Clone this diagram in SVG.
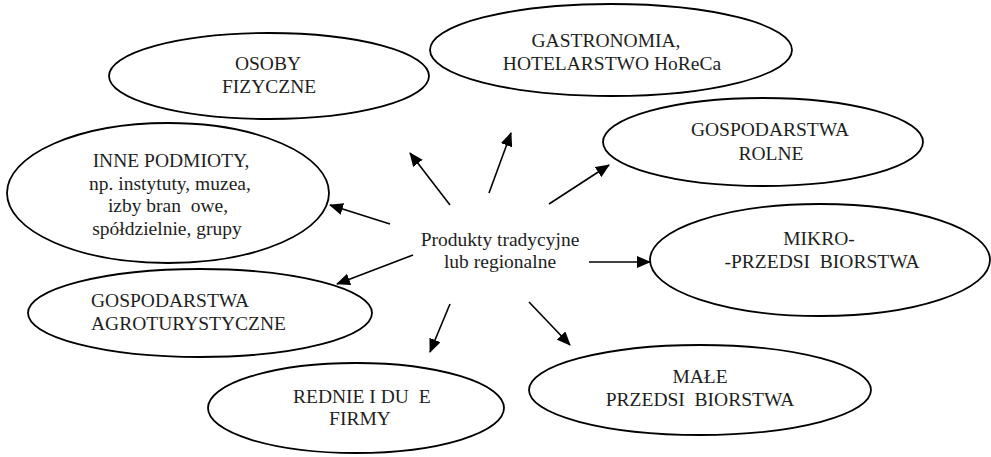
<svg xmlns="http://www.w3.org/2000/svg" width="991" height="457" viewBox="0 0 991 457" xml:space="preserve">
<style>
.n{fill:#fff;stroke:#000;stroke-width:1.8}
.t{font-family:"Liberation Serif","Times New Roman",serif;font-size:19.5px;fill:#1e1e1e;white-space:pre}
.m{text-anchor:middle}
.c line{stroke:#000;stroke-width:1.6;marker-end:url(#ah)}
</style>
<defs>
<marker id="ah" viewBox="0 0 14 12" refX="13" refY="6" markerWidth="14" markerHeight="12" markerUnits="userSpaceOnUse" orient="auto">
<path d="M0,0 L14,6 L0,12 Z" fill="#000"/>
</marker>
</defs>
<rect width="991" height="457" fill="#fff"/>
<g id="osoby"><ellipse class="n" cx="269" cy="76" rx="160" ry="43"/>
<text class="t m" x="268" y="70">OSOBY</text><text class="t m" x="269" y="93">FIZYCZNE</text></g>
<g id="gastronomia"><ellipse class="n" cx="611" cy="50" rx="181" ry="46"/>
<text class="t m" x="606" y="47">GASTRONOMIA,</text><text class="t m" x="612" y="70">HOTELARSTWO HoReCa</text></g>
<g id="rolne"><ellipse class="n" cx="763" cy="142" rx="160" ry="44"/>
<text class="t m" x="770" y="136">GOSPODARSTWA</text><text class="t m" x="771" y="160">ROLNE</text></g>
<g id="inne"><ellipse class="n" cx="168" cy="193" rx="161" ry="70"/>
<text class="t m" x="171" y="167">INNE PODMIOTY,</text><text class="t m" x="170" y="190">np. instytuty, muzea,</text><text class="t m" x="168" y="212">izby bran  owe,</text><text class="t m" x="167" y="235">spółdzielnie, grupy</text></g>
<g id="mikro"><ellipse class="n" cx="820" cy="260" rx="170" ry="56"/>
<text class="t m" x="819" y="245">MIKRO-</text><text class="t m" x="822" y="268">-PRZEDSI  BIORSTWA</text></g>
<g id="agro"><ellipse class="n" cx="200" cy="313" rx="172" ry="44"/>
<text class="t" x="91" y="307">GOSPODARSTWA</text><text class="t" x="91" y="330">AGROTURYSTYCZNE</text></g>
<g id="srednie"><ellipse class="n" cx="356" cy="408" rx="148" ry="45"/>
<text class="t" x="293" y="403">REDNIE I DU  E</text><text class="t m" x="360" y="425">FIRMY</text></g>
<g id="male"><ellipse class="n" cx="700" cy="390" rx="171" ry="45"/>
<text class="t m" x="700" y="383">MAŁE</text><text class="t m" x="700" y="406">PRZEDSI  BIORSTWA</text></g>
<g id="centrum"><text class="t m" x="500" y="246">Produkty tradycyjne</text><text class="t m" x="500" y="268">lub regionalne</text></g>
<g id="connectors" class="c">
<line x1="450" y1="205" x2="410" y2="153"/>
<line x1="489" y1="193" x2="511" y2="133"/>
<line x1="549" y1="204" x2="609" y2="165"/>
<line x1="390" y1="224" x2="330" y2="205"/>
<line x1="413" y1="255" x2="337" y2="284"/>
<line x1="589" y1="262" x2="650" y2="262"/>
<line x1="450" y1="304" x2="430" y2="352"/>
<line x1="529" y1="302" x2="570" y2="345"/>
</g>
</svg>
